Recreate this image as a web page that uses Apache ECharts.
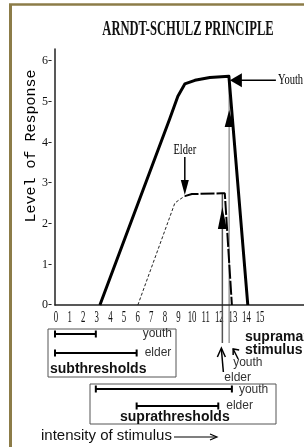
<!DOCTYPE html>
<html><head><meta charset="utf-8">
<script src="https://cdn.jsdelivr.net/npm/echarts@6/dist/echarts.min.js"></script>
<style>html,body{margin:0;padding:0;background:#fff}#c{width:304px;height:447px}</style>
</head><body><div id="c"></div>
<script>
// ---- data ----
const chartTitle = 'ARNDT-SCHULZ PRINCIPLE';
const yAxisTitle = 'Level of Response';
const xTickLabels = [0,1,2,3,4,5,6,7,8,9,10,11,12,13,14,15];
const yTickLabels = [0,1,2,3,4,5,6];
const youthX = [3.3, 8.44, 9.03, 9.54, 10.28, 11.38, 12.78, 14.17];
const youthY = [0, 4.59, 5.14, 5.44, 5.53, 5.6, 5.63, 0];
const elderRiseX = [6.09, 8.81, 9.18, 9.54];
const elderRiseY = [0, 2.51, 2.6, 2.68];
const elderTopX = [9.54, 10.06, 12.26, 12.48, 13.0];
const elderTopY = [2.68, 2.73, 2.75, 2.75, 0];
const supraMaxYouthX = 12.8;
const supraMaxElderX = 12.3;
const subYouth = [0, 3];
const subElder = [0, 6];
const supraYouth = [3, 13];
const supraElder = [6, 12];

// ---- chart ----
const chart = echarts.init(document.getElementById('c'), null, {renderer: 'canvas'});
const serif = "'Liberation Serif','Times New Roman',serif";
const sans = "'Liberation Sans',Arial,sans-serif";
const mono = "'Liberation Mono','Courier New',monospace";
const zip = (xs, ys) => xs.map((x, i) => [x, ys[i]]);

chart.setOption({
  animation: false,
  backgroundColor: '#fff',
  grid: {left: 55, right: 0, top: 49, bottom: 142, containLabel: false, outerBoundsMode: 'none'},
  xAxis: {
    type: 'value', min: 0, max: 18.3, interval: 1,
    axisLine: {show: true, lineStyle: {color: '#222', width: 1.5}},
    axisTick: {show: false}, splitLine: {show: false},
    axisLabel: {show: false}
  },
  yAxis: {
    type: 'value', min: 0, max: 6.3, interval: 1,
    axisLine: {show: true, lineStyle: {color: '#222', width: 1.5}},
    axisTick: {show: false}, splitLine: {show: false},
    axisLabel: {
      formatter: v => (yTickLabels.includes(v) ? v + '-' : ''),
      fontFamily: serif, fontSize: 12, color: '#111', margin: 3
    }
  },
  series: [
    {type: 'line', data: zip(youthX, youthY), symbol: 'none', z: 4,
     lineStyle: {color: '#000', width: 3, join: 'round'}},
    {type: 'line', data: zip(elderRiseX, elderRiseY), symbol: 'none',
     lineStyle: {color: '#222', width: 1, type: [3, 2]}},
    {type: 'line', data: zip(elderTopX, elderTopY), symbol: 'none',
     lineStyle: {color: '#000', width: 2, type: [14, 2]}}
  ]
});

// ---- annotations positioned through the axes ----
const P = (x, y) => chart.convertToPixel({gridIndex: 0}, [x, y]);
const g = [];
const line = (x1, y1, x2, y2, color, w) => g.push({type: 'line', silent: true,
  shape: {x1, y1, x2, y2}, style: {stroke: color, lineWidth: w}});
const pline = (pts, color, w) => g.push({type: 'polyline', silent: true,
  shape: {points: pts}, style: {stroke: color, lineWidth: w, fill: null}});
const tri = (pts) => g.push({type: 'polygon', silent: true, shape: {points: pts}, style: {fill: '#000'}});
const text = (x, y, str, font, align, fill, sx) => g.push({type: 'text', silent: true, x, y,
  scaleX: sx || 1,
  style: {text: str, font, fill: fill || '#000', textAlign: align, align: align,
          textVerticalAlign: 'middle', verticalAlign: 'middle'}});
const rect = (x, y, w, h) => g.push({type: 'rect', silent: true, shape: {x, y, width: w, height: h},
  style: {stroke: '#555', lineWidth: 1, fill: null}});
const bar = (range, y) => {
  const a = P(range[0], 0)[0], b = P(range[1], 0)[0];
  line(a, y, b, y, '#000', 2);
  line(a, y - 3.5, a, y + 3.5, '#000', 2);
  line(b, y - 3.5, b, y + 3.5, '#000', 2);
};

const frame = '#8c7c48';
line(10.5, 4, 10.5, 447, frame, 3);
line(9, 4.5, 304, 4.5, frame, 2.5);

text(188, 29, chartTitle, 'bold 22px ' + serif, 'center', '#111', 0.57);
g.push({type: 'text', silent: true, x: 31, y: 146, rotation: Math.PI / 2,
  style: {text: yAxisTitle, font: '15px ' + mono, fill: '#000',
          textAlign: 'center', align: 'center', textVerticalAlign: 'middle', verticalAlign: 'middle'}});

const axisY = P(0, 0)[1];

// x tick labels, placed by the x scale (condensed like the original typeface)
xTickLabels.forEach(v => {
  text(P(v, 0)[0] + 1, axisY + 13, String(v), '16px ' + serif, 'center', '#111', 0.55);
});

// youth label arrow
const c = P(youthX[6], youthY[6]);
const tX = c[0] + 1, tY = c[1] + 4;
tri([[tX, tY], [tX + 12, tY - 7], [tX + 12, tY + 7]]);
line(tX + 10, tY, tX + 46, tY, '#000', 1.5);
text(tX + 48, tY, 'Youth', '15px ' + serif, 'left', '#000', 0.7);

// youth supramaximal vertical
const vx = P(supraMaxYouthX, 0)[0];
line(vx, c[1], vx, axisY + 38, '#9a9a9a', 1.5);
tri([[vx, axisY - 195], [vx - 4.5, axisY - 178], [vx + 4.5, axisY - 178]]);

// elder supramaximal vertical
const ex = P(supraMaxElderX, 0)[0];
const ey = P(supraMaxElderX, elderTopY[2])[1];
line(ex, ey, ex, axisY + 38, '#555', 1.5);
tri([[ex, axisY - 98], [ex - 4.5, axisY - 76], [ex + 4.5, axisY - 76]]);

// elder label arrow
const lp = P(elderTopX[0], elderTopY[0]);
const ltY = lp[1] - 1;
line(lp[0], ltY - 38, lp[0], ltY - 10, '#000', 1.5);
tri([[lp[0], ltY], [lp[0] - 4, ltY - 15], [lp[0] + 4, ltY - 15]]);
text(lp[0], ltY - 45, 'Elder', '15px ' + serif, 'center', '#000', 0.7);

// subthresholds box
rect(48, axisY + 24, 128, 48);
bar(subYouth, axisY + 29);
text(172, axisY + 29, 'youth', '12px ' + sans, 'right', '#333');
bar(subElder, axisY + 48);
text(P(subElder[1], 0)[0] + 8, axisY + 48, 'elder', '12px ' + sans, 'left', '#333');
text(50, axisY + 64, 'subthresholds', 'bold 14px ' + sans, 'left', '#111');

// suprathresholds box
rect(90, axisY + 79, 186, 40);
bar(supraYouth, axisY + 84);
text(P(supraYouth[1], 0)[0] + 7, axisY + 85, 'youth', '12px ' + sans, 'left', '#333');
bar(supraElder, axisY + 101);
text(P(supraElder[1], 0)[0] + 8, axisY + 101, 'elder', '12px ' + sans, 'left', '#333');
text(120, axisY + 112, 'suprathresholds', 'bold 14px ' + sans, 'left', '#111');

// supramaximal stimulus
text(245, axisY + 32, 'supramaximal', 'bold 14px ' + sans, 'left', '#111');
text(245, axisY + 45, 'stimulus', 'bold 14px ' + sans, 'left', '#111');
line(ex + 1, axisY + 67, ex - 1, axisY + 44, '#000', 1.5);
pline([[ex - 5, axisY + 52], [ex - 1, axisY + 43], [ex + 3, axisY + 52]], '#000', 1.5);
line(vx + 9, axisY + 54, vx + 4, axisY + 44, '#000', 1.5);
pline([[vx + 10, axisY + 45], [vx + 4, axisY + 44], [vx + 4, axisY + 50]], '#000', 1.5);
text(vx + 4, axisY + 58, 'youth', '12px ' + sans, 'left', '#333');
text(ex + 2, axisY + 73, 'elder', '12px ' + sans, 'left', '#333');

// intensity of stimulus
text(41, axisY + 131, 'intensity of stimulus', '15px ' + sans, 'left', '#111');
line(174, axisY + 132, 216, axisY + 132, '#000', 1.2);
pline([[210, axisY + 129], [217, axisY + 132], [210, axisY + 135]], '#000', 1.2);

chart.setOption({graphic: {elements: g}});
</script>
</body></html>
